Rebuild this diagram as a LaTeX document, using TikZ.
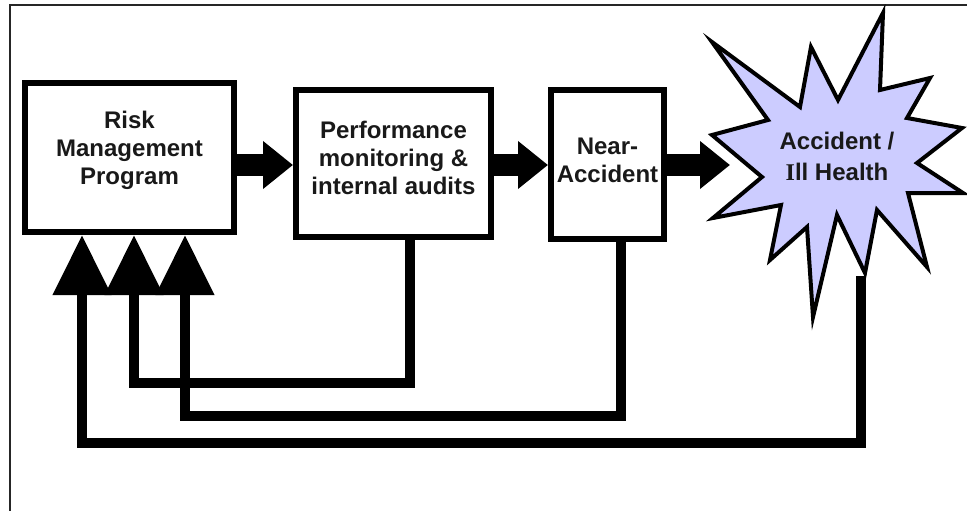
\documentclass[tikz,border=0pt]{standalone}
\usepackage{fontspec}
\setmainfont{Liberation Sans}
\newfontfamily\serifI{Liberation Serif}
\usetikzlibrary{arrows.meta}
\definecolor{starfill}{RGB}{204,204,255}
\begin{document}
\begin{tikzpicture}[x=1pt,y=-1pt,
  stepbox/.style={draw=black, fill=white, line width=6pt, inner sep=0pt},
  lbl/.style={font=\fontsize{24}{28}\selectfont\bfseries, align=center, inner sep=0pt, text=black!90},
  flow/.style={line width=22pt, -{Triangle[width=46pt,length=30pt]}},
  fb/.style={line width=10.5pt, -{Triangle[width=56pt,length=60pt]}},
  burst/.style={draw=black, fill=starfill, line width=4pt, line join=miter}]
\useasboundingbox (0,0) rectangle (967,511);
% frame
\draw[line width=2.5pt, black!85] (10,511) -- (10,5) -- (967,5);
% boxes
\node[stepbox, minimum width=209pt, minimum height=149pt] (rmp) at (129.5,157.5) {};
\node[lbl] (rmpt) at (129.5,150) {Risk\\Management\\Program};
\node[stepbox, minimum width=195pt, minimum height=147pt] (pm) at (393.5,163.5) {};
\node[lbl] (pmt) at (393.5,158) {Performance\\monitoring \&\\internal audits};
\node[stepbox, minimum width=113pt, minimum height=149pt] (na) at (607.5,164.5) {};
\node[lbl] (nat) at (607.5,160) {Near-\\Accident};
% coordinates
\coordinate (ay) at (0,165);
\coordinate (starL) at (730,165);
\coordinate (starB) at (861,276);
\coordinate (f1) at (410,0);
\coordinate (f2) at (621,0);
% feedback loops
\draw[fb] (pm.south -| f1) |- (134,383) -- ([xshift=112pt]rmp.south west);
\draw[fb] (na.south -| f2) |- (185,416) -- ([xshift=163pt]rmp.south west);
\draw[fb] (starB) |- (82,443) -- ([xshift=60pt]rmp.south west);
% star
\draw[burst] (712,42) -- (800,107) -- (811,47) -- (838,100) -- (883,13) -- (880,90)
  -- (930,78) -- (907,118) -- (962,128) -- (917,163) -- (963,193) -- (908,193)
  -- (927,267) -- (877,210) -- (865,273) -- (837,215) -- (813,317) -- (807,227)
  -- (770,260) -- (781,205) -- (713,218) -- (762,177) -- (712,135) -- (768,120) -- cycle;
\node[lbl, font=\fontsize{24}{31}\selectfont\bfseries] (acc) at (837,156) {Accident /\\{\serifI I}ll Health};
% forward arrows
\draw[flow] (rmp.east |- ay) -- (pm.west |- ay);
\draw[flow] (pm.east |- ay) -- (na.west |- ay);
\draw[flow] (na.east |- ay) -- (starL);
\end{tikzpicture}
\end{document}
